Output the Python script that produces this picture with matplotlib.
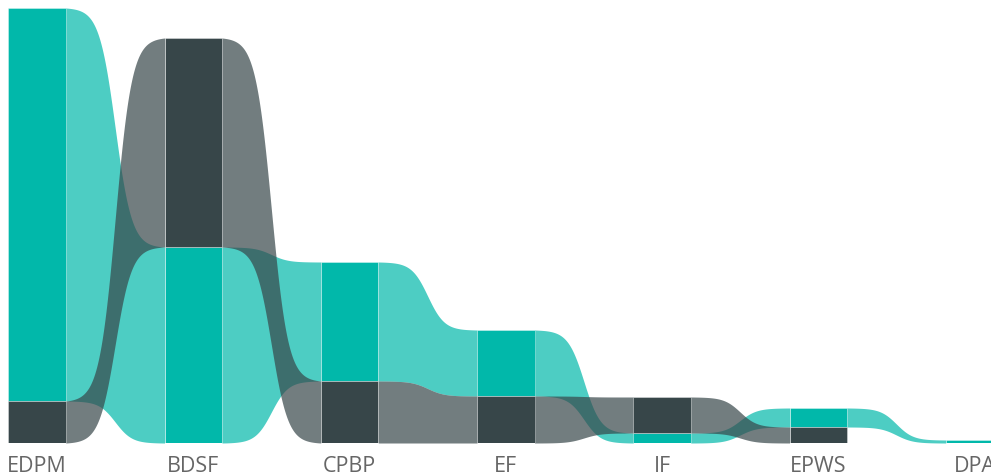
import numpy as np
import matplotlib
matplotlib.use("Agg")
import matplotlib.pyplot as plt

# Ribbon chart: two series stacked per category, larger value on top
categories = ["EDPM", "BDSF", "CPBP", "EF", "IF", "EPWS", "DPA"]
teal_values = [393, 196, 119, 66, 10, 19, 3]
dark_values = [42, 209, 62, 47, 36, 16, None]

series = [
    ("teal", teal_values, "#01B8AA"),
    ("dark", dark_values, "#374649"),
]

W, H, DPI = 991, 476, 100
fig = plt.figure(figsize=(W / DPI, H / DPI), dpi=DPI)
fig.patch.set_facecolor("white")

# axes in pixel-like units: one value unit per pixel vertically
base_px = 33          # baseline distance from the bottom of the figure
x0_px, step_px = 37.0, 156.25
ax = fig.add_axes([0, base_px / H, 1, 1 - base_px / H])
ax.set_xlim(-x0_px / step_px, (W - x0_px) / step_px)
ax.set_ylim(0, H - base_px)
ax.axis("off")

bar_w = 57.5 / step_px
n = len(categories)

# stack positions: within each category the larger series sits on top
stack = {name: [None] * n for name, _, _ in series}
for i in range(n):
    present = [(vals[i], name) for name, vals, _ in series if vals[i] is not None]
    present.sort()  # smallest first -> bottom
    bottom = 0.0
    for v, name in present:
        stack[name][i] = (bottom, bottom + v)
        bottom += v


def ease(t, k=6.0):
    return 0.5 + 0.5 * np.tanh(k * (t - 0.5)) / np.tanh(k / 2)


t = np.linspace(0, 1, 200)
f = ease(t)

# ribbons between neighbouring bars
for z, (name, vals, color) in enumerate(series):
    for i in range(n - 1):
        a, b = stack[name][i], stack[name][i + 1]
        if a is None or b is None:
            continue
        xa = i + bar_w / 2
        xb = i + 1 - bar_w / 2
        xs = xa + t * (xb - xa)
        lo = a[0] + (b[0] - a[0]) * f
        hi = a[1] + (b[1] - a[1]) * f
        ax.fill_between(xs, lo, hi, color=color, alpha=0.7, lw=0, zorder=1 + z)

# bars
for name, vals, color in series:
    for i in range(n):
        s = stack[name][i]
        if s is None:
            continue
        ax.bar(i, s[1] - s[0], bottom=s[0], width=bar_w, color=color,
               edgecolor=(1, 1, 1, 0.35), linewidth=0.7, zorder=5)

# category labels below the bars
for i, cat in enumerate(categories):
    xp = x0_px + i * step_px
    fig.text(xp / W, 4.5 / H, cat, ha="center", va="baseline",
             fontsize=15.5, color="#666666", family=["Open Sans", "DejaVu Sans"])

fig.savefig("out.png", dpi=DPI, facecolor="white")
